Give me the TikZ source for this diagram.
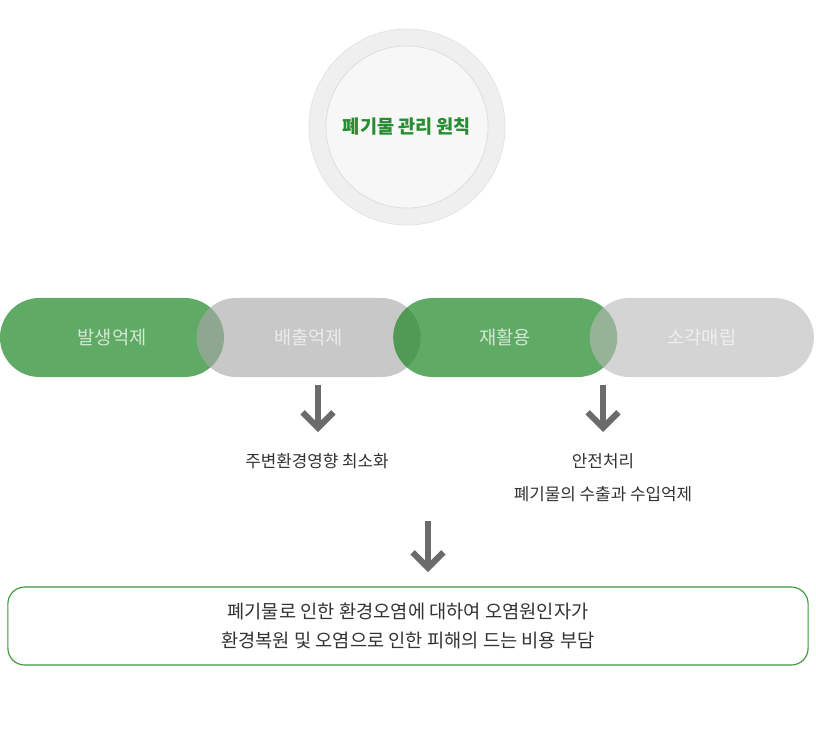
\documentclass[tikz,border=0pt]{standalone}
\usepackage{fontspec}
\setmainfont{Noto Sans CJK KR}
\usetikzlibrary{positioning, arrows.meta, shapes.misc}

\definecolor{pillgreen}{RGB}{36,138,42}
\definecolor{pillgray}{RGB}{169,169,169}
\definecolor{pilllight}{RGB}{185,185,185}
\definecolor{titlegreen}{RGB}{40,140,50}
\definecolor{boxgreen}{RGB}{58,150,58}
\definecolor{arrowgray}{RGB}{107,107,107}
\definecolor{textdark}{RGB}{51,51,51}

\begin{document}
\begin{tikzpicture}[
    x=0.025cm, y=-0.025cm,
    outercircle/.style={circle, minimum size=4.9cm, fill={rgb,255:red,239;green,239;blue,239}, draw={rgb,255:red,226;green,226;blue,226}, line width=0.5pt},
    innercircle/.style={circle, minimum size=4.05cm, fill={rgb,255:red,247;green,247;blue,247}, draw={rgb,255:red,220;green,220;blue,220}, line width=0.5pt, font=\fontsize{13.2}{15}\selectfont\bfseries, text=titlegreen},
    pill/.style={rounded rectangle, minimum width=5.6cm, minimum height=1.975cm, inner sep=0pt, text=white, font=\fontsize{13.3}{15}\selectfont},
    greenpill/.style={pill, fill=pillgreen, fill opacity=0.73},
    graypill/.style={pill, fill=pillgray, fill opacity=0.64},
    lightpill/.style={pill, fill=pilllight, fill opacity=0.62},
    note/.style={font=\fontsize{12}{14}\selectfont, text=textdark, inner sep=1pt},
    resultbox/.style={rectangle, draw=boxgreen, line width=0.8pt, rounded corners=0.42cm, minimum width=20cm, minimum height=1.95cm, align=center, font=\fontsize{13.3}{20}\selectfont, text=textdark},
    downarrow/.style={-{Straight Barb[length=11pt, width=22pt]}, line width=4.3pt, draw=arrowgray},
]
\useasboundingbox (0,0) rectangle (816,730);

% === PRINCIPLE ===
\node[outercircle] (ring) at (407,127) {};
\node[innercircle] (core) at (ring) {폐기물 관리 원칙};

% === STAGES ===
\node[greenpill] (reduce) at (112,337.5) {발생억제};
\node[graypill, right=-0.7cm of reduce] (emit) {배출억제};
\node[greenpill, right=-0.7cm of emit] (recycle) {재활용};
\node[lightpill, right=-0.7cm of recycle] (burn) {소각매립};

% === EFFECTS ===
\node[note] (impact) at (317,461) {주변환경영향 최소화};
\node[note] (safe) at (603,461) {안전처리};
\node[note] (trade) at (603,494) {폐기물의 수출과 수입억제};

% === RESULT ===
\node[resultbox] (result) at (408,626) {폐기물로 인한 환경오염에 대하여 오염원인자가\\환경복원 및 오염으로 인한 피해의 드는 비용 부담};

% === ARROWS ===
\coordinate (a1s) at (318,385);
\coordinate (a1e) at (318,432);
\coordinate (a2s) at (603,385);
\coordinate (a2e) at (603,432);
\coordinate (a3s) at (428,521);
\coordinate (a3e) at (428,572);
\draw[downarrow] (a1s) -- (a1e);
\draw[downarrow] (a2s) -- (a2e);
\draw[downarrow] (a3s) -- (a3e);

\end{tikzpicture}
\end{document}
